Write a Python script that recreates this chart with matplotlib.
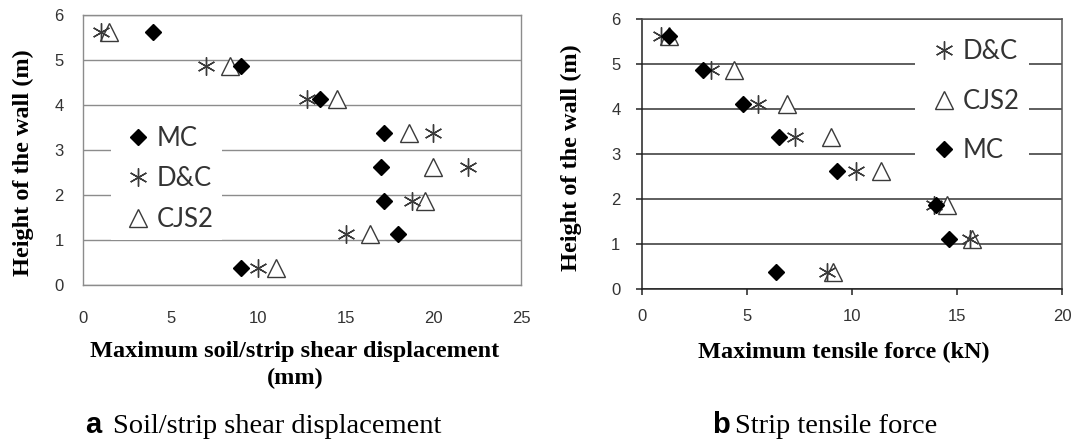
import matplotlib
matplotlib.use('Agg')
import matplotlib.pyplot as plt
from matplotlib.lines import Line2D

# wall heights of the strips (m)
heights = [5.625, 4.875, 4.125, 3.375, 2.625, 1.875, 1.125, 0.375]

# max soil/strip shear displacement (mm)
mc_disp = [4.0, 9.0, 13.5, 17.2, 17.0, 17.2, 18.0, 9.0]
dc_disp = [1.0, 7.0, 12.8, 20.0, 22.0, 18.8, 15.0, 10.0]
cjs_disp = [1.5, 8.4, 14.5, 18.6, 20.0, 19.5, 16.4, 11.0]

# max tensile force (kN)
mc_force = [1.3, 2.9, 4.8, 6.5, 9.3, 14.0, 14.6, 6.4]
dc_force = [0.9, 3.3, 5.5, 7.3, 10.2, 13.9, 15.6, 8.8]
cjs_force = [1.3, 4.4, 6.9, 9.0, 11.4, 14.5, 15.7, 9.1]

xticks_a = [0, 5, 10, 15, 20, 25]
xticks_b = [0, 5, 10, 15, 20]
yticks = [0, 1, 2, 3, 4, 5, 6]

serif = ['Liberation Serif', 'DejaVu Serif']
sans = ['Liberation Sans', 'DejaVu Sans']
legfont = {'family': ['Lato', 'DejaVu Sans'], 'size': 18.5}

star = (6, 2, 0)
mc_style = dict(marker='D', ms=8, color='black', linestyle='none', zorder=4)
dc_style = dict(marker=star, ms=13, color='#3a3a3a', mew=1.0, linestyle='none', zorder=3)
cjs_style = dict(marker='^', ms=13, mfc='white', mec='#3a3a3a', mew=1.0, linestyle='none', zorder=3)

fig = plt.figure(figsize=(10.77, 4.42), dpi=100)
ax1 = fig.add_axes([0.0771, 0.3552, 0.4067, 0.6109])
ax2 = fig.add_axes([0.5961, 0.3455, 0.3900, 0.6109])

# ---- panel a ----
ax1.plot(cjs_disp, heights, **cjs_style)
ax1.plot(dc_disp, heights, **dc_style)
ax1.plot(mc_disp, heights, **mc_style)
ax1.set_xlim(0, 25)
ax1.set_ylim(0, 6)
ax1.set_xticks(xticks_a)
ax1.set_yticks(yticks)
ax1.set_axisbelow(True)
ax1.yaxis.grid(True, color='#8c8c8c', lw=1)
for s in ax1.spines.values():
    s.set_color('#8c8c8c')
    s.set_linewidth(1)
ax1.tick_params(length=0, labelsize=12, labelcolor='#333333')
ax1.tick_params(axis='x', pad=19)
ax1.tick_params(axis='y', pad=14)
for lab in ax1.get_xticklabels() + ax1.get_yticklabels():
    lab.set_family(sans)
ax1.set_ylabel('Height of the wall (m)', family=serif, fontweight='bold', fontsize=17.5)
ax1.yaxis.set_label_coords(-0.112, 0.455)
ax1.set_xlabel('Maximum soil/strip shear displacement\n(mm)', family=serif,
               fontweight='bold', fontsize=17.5, linespacing=1.4)
ax1.xaxis.set_label_coords(0.484, -0.207)

h_mc = Line2D([], [], **mc_style)
h_dc = Line2D([], [], **dc_style)
h_cjs = Line2D([], [], **cjs_style)
leg1 = ax1.legend([h_mc, h_dc, h_cjs], ['MC', 'D&C', 'CJS2'], loc='center',
                  bbox_to_anchor=(0.19, 0.393), prop=legfont, frameon=True,
                  facecolor='white', edgecolor='none', framealpha=1,
                  handletextpad=0.0, labelspacing=0.61, borderpad=0.3,
                  handlelength=1.5, fancybox=False)
for t in leg1.get_texts():
    t.set_color('#333333')

# ---- panel b ----
ax2.plot(cjs_force, heights, **cjs_style)
ax2.plot(dc_force, heights, **dc_style)
ax2.plot(mc_force, heights, **mc_style)
ax2.set_xlim(0, 20)
ax2.set_ylim(0, 6)
ax2.set_xticks(xticks_b)
ax2.set_yticks(yticks)
ax2.set_axisbelow(True)
ax2.yaxis.grid(True, color='#333333', lw=1.1)
ax2.spines['left'].set_color('#222222')
ax2.spines['bottom'].set_color('#222222')
ax2.spines['top'].set_color('#555555')
ax2.spines['right'].set_color('#555555')
for s in ax2.spines.values():
    s.set_linewidth(1.1)
ax2.tick_params(direction='out', length=4.5, width=1.1, color='#222222',
                labelsize=12, labelcolor='#333333')
ax2.tick_params(axis='x', pad=10)
ax2.tick_params(axis='y', pad=11)
for lab in ax2.get_xticklabels() + ax2.get_yticklabels():
    lab.set_family(sans)
ax2.set_ylabel('Height of the wall (m)', family=serif, fontweight='bold', fontsize=17.5)
ax2.yaxis.set_label_coords(-0.143, 0.489)
ax2.set_xlabel('Maximum tensile force (kN)', family=serif, fontweight='bold', fontsize=17.5)
ax2.xaxis.set_label_coords(0.48, -0.193)

leg2 = ax2.legend([h_dc, h_cjs, h_mc], ['D&C', 'CJS2', 'MC'], loc='center',
                  bbox_to_anchor=(0.786, 0.697), prop=legfont, frameon=True,
                  facecolor='white', edgecolor='none', framealpha=1,
                  handletextpad=0.0, labelspacing=0.96, borderpad=0.35,
                  handlelength=1.5, fancybox=False)
for t in leg2.get_texts():
    t.set_color('#333333')

# ---- captions ----
base = 1 - 433 / 442
fig.text(85 / 1077, base, 'a', family=sans, fontweight='bold', fontsize=21, va='baseline')
fig.text(113 / 1077, base, 'Soil/strip shear displacement', family=serif,
         fontsize=20.5, va='baseline')
fig.text(712 / 1077, base, 'b', family=sans, fontweight='bold', fontsize=21, va='baseline')
fig.text(735 / 1077, base, 'Strip tensile force', family=serif,
         fontsize=20.5, va='baseline')

fig.savefig('out.png', dpi=100)
